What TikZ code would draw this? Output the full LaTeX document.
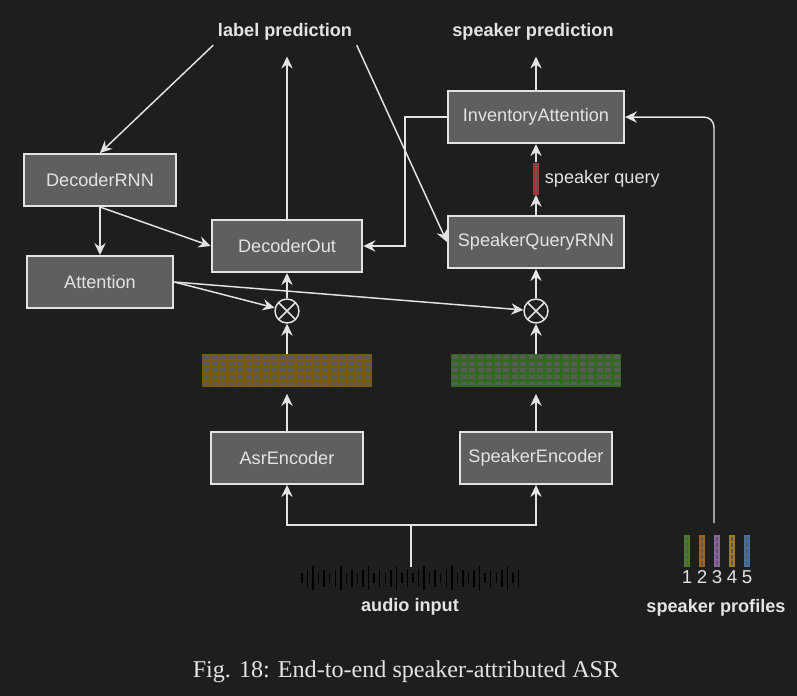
\documentclass[tikz,border=0pt]{standalone}
\usepackage{fontspec}
\setmainfont{Liberation Sans}
\newfontfamily\capfont{Liberation Serif}
\usetikzlibrary{arrows.meta,calc}
\definecolor{bg}{HTML}{1E1E1E}
\definecolor{boxfill}{HTML}{5F5F5F}
\definecolor{fg}{HTML}{E3E3E3}
\definecolor{cellgrey}{HTML}{5A5A5A}
\definecolor{asrbrown}{HTML}{7A5A00}
\definecolor{spkgreen}{HTML}{2F6A1E}
\definecolor{queryred}{HTML}{A33636}
\definecolor{prof1}{HTML}{4B7A2A}
\definecolor{prof2}{HTML}{A3621C}
\definecolor{prof3}{HTML}{8C62A2}
\definecolor{prof4}{HTML}{9E7A22}
\definecolor{prof5}{HTML}{4A6FA5}

\begin{document}
\begin{tikzpicture}[x=0.75pt,y=-0.75pt,node distance=1cm,>={Stealth[length=9pt,width=8.5pt,inset=3pt]}]
    % looks of the blocks and connectors
    \tikzstyle{block}=[rectangle,draw=fg,line width=1.5pt,fill=boxfill,text=fg,
    font=\fontsize{13.6}{16}\selectfont,minimum width=114pt,minimum height=39pt,inner sep=0pt]
    \tikzstyle{conn}=[draw=fg,line width=1.1pt]
    \tikzstyle{heading}=[text=fg,font=\bfseries\fontsize{13.6}{16}\selectfont]
    \tikzstyle{numlbl}=[text=fg,font=\fontsize{14}{16}\selectfont,inner sep=2pt]
    \tikzstyle{mult}=[circle,draw=fg,fill=bg,line width=1.1pt,minimum size=18pt,inner sep=0pt,
    path picture={\draw[fg,line width=1.1pt] (path picture bounding box.north west) -- (path picture bounding box.south east)
      (path picture bounding box.north east) -- (path picture bounding box.south west);}]
    \tikzstyle{feature}=[rectangle,minimum width=127.5pt,minimum height=24.75pt,inner sep=0pt]
    \tikzstyle{vecbar}=[rectangle,minimum width=4.5pt,minimum height=24pt,inner sep=0pt]
    \tikzstyle{vecdash}=[draw=cellgrey,line width=2pt,dash pattern=on 3pt off 1.5pt,shorten <=1.5pt,shorten >=1.5pt]

    \fill[bg] (0,0) rectangle (797,696);
    \useasboundingbox (0,0) rectangle (797,696);

    \node [heading] (labelpred) at (285,32) {label prediction};
    \node [heading] (spkpred) at (533,32) {speaker prediction};

    \node [block] (decrnn) at (100,180) {DecoderRNN};
    \node [block,minimum width=110pt] (attn) [below of=decrnn,node distance=76.5pt] {Attention};
    \node [block,minimum width=113pt] (decout) at (287,246) {DecoderOut};
    \node [mult] (otA) [below of=decout,node distance=48.75pt] {};
    \node [feature,fill=asrbrown] (gridA) [below of=otA,node distance=44.6pt] {};
    \node [block] (asrenc) [below of=gridA,node distance=65.6pt] {AsrEncoder};
    \node [block] (spkenc) [right of=asrenc,node distance=186.75pt] {SpeakerEncoder};
    \node [feature,fill=spkgreen] (gridB) [above of=spkenc,node distance=65.6pt] {};
    \node [mult] (otB) [above of=gridB,node distance=44.6pt] {};
    \node [block,minimum width=132pt] (sqrnn) [above of=otB,node distance=51.75pt] {SpeakerQueryRNN};
    \node [vecbar,fill=queryred] (query) [above of=sqrnn,node distance=47.6pt,
      label={[heading,font=\fontsize{13.6}{16}\selectfont,inner sep=4pt]right:speaker query}] {};
    \node [block,minimum width=132pt] (invatt) [above of=query,node distance=46.1pt] {InventoryAttention};
    \draw [vecdash] (query.north) -- (query.south);

    % feature grids
    \foreach \g in {gridA,gridB}
      \foreach \i in {0,...,19}
        \foreach \j in {0,...,4}
          \fill[cellgrey] ($(\g.north west)+(\i*8.5+1.5,\j*6.6+1.5)$) rectangle +(6,3.8);

    % audio input
    \foreach \i in {0,...,39} {
      \pgfmathsetmacro\h{{24,10,17,10,17}[int(mod(\i+3,5))]}
      \draw[black,line width=1.1pt] (302+\i*5.55,578-\h/2) -- ++(0,\h);
    }
    \coordinate (audio) at (411,567);
    \node [heading] (audiolbl) at (410,607) {audio input};

    % speaker profiles
    \foreach \k/\c in {1/prof1,2/prof2,3/prof3,4/prof4,5/prof5} {
      \node [vecbar,fill=\c,label={[numlbl]below:\k}] (prof\k) at (672+\k*15,551) {};
      \draw [vecdash] (prof\k.north) -- (prof\k.south);
    }
    \node [heading] (proflbl) at (716,608) {speaker profiles};
    \coordinate (profline) at (714,523);

    \node [text=fg,font=\capfont\fontsize{18.1}{22}\selectfont] (caption) at (406,672) {Fig. 18: End-to-end speaker-attributed ASR};

    \draw [conn,->] (labelpred.south west) -- (decrnn.north);
    \draw [conn,->] (labelpred.south east) -- (sqrnn.west);
    \draw [conn,->,shorten >=8.5pt] (decout.north) -- (decout.north |- labelpred.south);
    \draw [conn,->,shorten >=8.5pt] (invatt.north) -- (invatt.north |- spkpred.south);
    \draw [conn,->] (decrnn.south) -- (attn.north);
    \draw [conn,->] (decrnn.south) -- (decout.west);
    \draw [conn,->] (attn.east) -- (otA);
    \draw [conn,->] (attn.east) -- (otB);
    \draw [conn,->] (otA.north) -- (decout.south);
    \draw [conn,->] (otB.north) -- (sqrnn.south);
    \draw [conn,->] (gridA.north) -- (otA.south);
    \draw [conn,->] (gridB.north) -- (otB.south);
    \draw [conn,->,shorten >=5pt] (asrenc.north) -- (gridA.south);
    \draw [conn,->,shorten >=5pt] (spkenc.north) -- (gridB.south);
    \draw [conn,->] (sqrnn.north) -- (query.south);
    \draw [conn,->] (query.north) -- (invatt.south);
    \draw [conn,->] (invatt.west) -- ++(-42,0) |- (decout.east);
    \draw [conn,->] (audio) -- ++(0,-42) -| (asrenc.south);
    \draw [conn,->] (audio) -- ++(0,-42) -| (spkenc.south);
    \draw [conn,->,rounded corners=7.5pt] (profline) |- (invatt.east);

  \end{tikzpicture}
\end{document}
